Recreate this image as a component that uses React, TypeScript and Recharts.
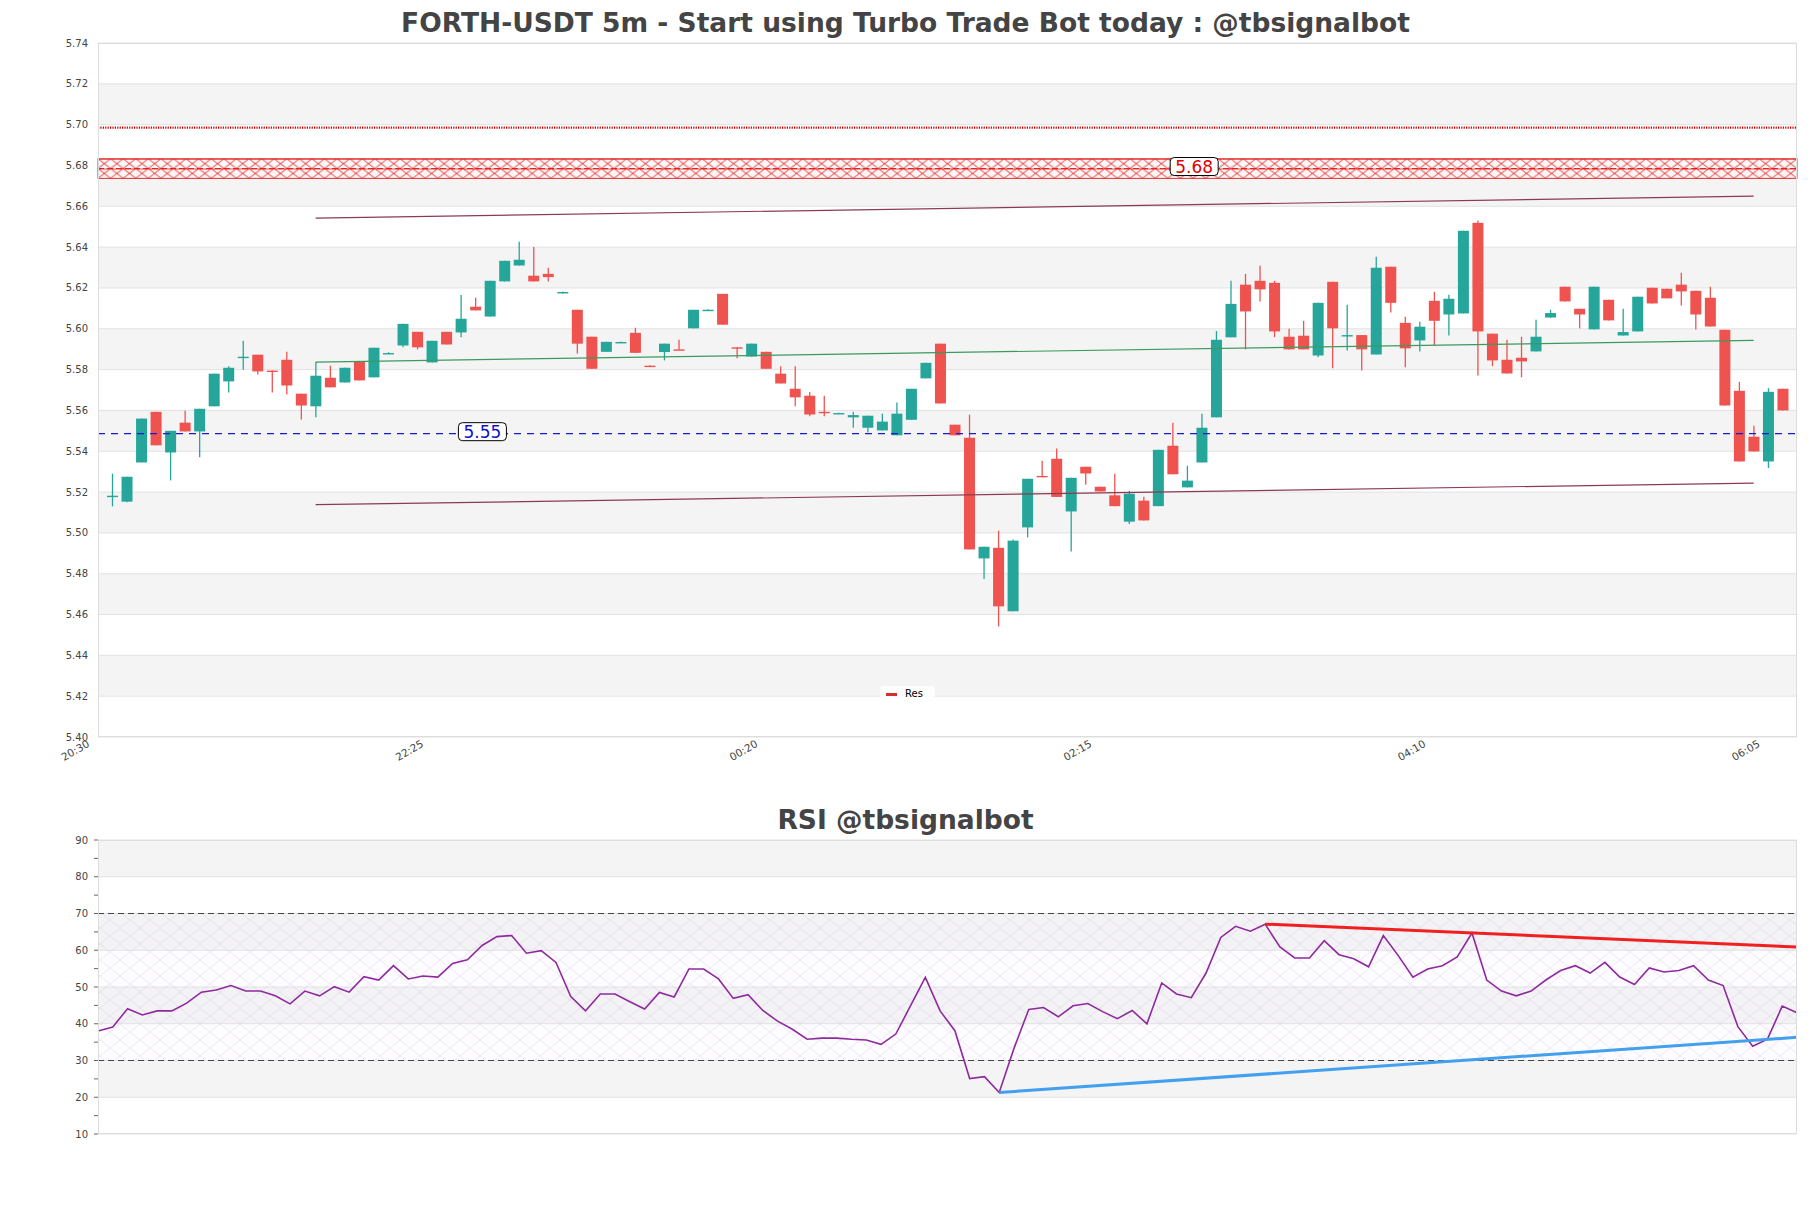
import React from 'react';
import {
  ComposedChart, Bar, Line, XAxis, YAxis, CartesianGrid,
  ReferenceLine, ReferenceArea, ReferenceDot,
} from 'recharts';

// 5m candles from 20:30 to 06:05
const FIRST_MIN = 20 * 60 + 30;
const times: string[] = Array.from({ length: 116 }, (_, i) => {
  const m = (FIRST_MIN + i * 5) % (24 * 60);
  return `${String(Math.floor(m / 60)).padStart(2, '0')}:${String(m % 60).padStart(2, '0')}`;
});

const opens = [
  5.5178, 5.5153, 5.5345, 5.5593, 5.5394, 5.554, 5.5497, 5.562, 5.5742, 5.5861,
  5.5873, 5.5795, 5.5848, 5.5682, 5.562, 5.576, 5.5737, 5.584, 5.5762, 5.588,
  5.5918, 5.5985, 5.5835, 5.5985, 5.5982, 5.6108, 5.606, 5.6232, 5.631, 5.626,
  5.6269, 5.6179, 5.6093, 5.5961, 5.5887, 5.5934, 5.598, 5.5819, 5.5886, 5.5899,
  5.6002, 5.6092, 5.6171, 5.5909, 5.5864, 5.5887, 5.578, 5.5706, 5.5672, 5.5593,
  5.5586, 5.5566, 5.5515, 5.5502, 5.5478, 5.5554, 5.5757, 5.5927, 5.553, 5.5466,
  5.4875, 5.4927, 5.4616, 5.5027, 5.5279, 5.5363, 5.5105, 5.5324, 5.5226, 5.5184,
  5.5055, 5.5158, 5.5131, 5.5427, 5.5223, 5.5345, 5.5566, 5.5958, 5.6216, 5.6235,
  5.6225, 5.5961, 5.5966, 5.5869, 5.623, 5.5968, 5.5969, 5.5874, 5.6304, 5.6029,
  5.5943, 5.6137, 5.607, 5.6075, 5.6519, 5.5976, 5.5848, 5.5858, 5.5889, 5.6055,
  5.6206, 5.6098, 5.5997, 5.6142, 5.5967, 5.5987, 5.6201, 5.6196, 5.6216, 5.6186,
  5.6152, 5.5995, 5.5696, 5.5471, 5.535, 5.5706,
];
const highs = [
  5.529, 5.5275, 5.556, 5.5593, 5.55, 5.5598, 5.5608, 5.578, 5.5816, 5.5941,
  5.5873, 5.5797, 5.5887, 5.5682, 5.5837, 5.5819, 5.5809, 5.584, 5.5907, 5.5885,
  5.6024, 5.5985, 5.5941, 5.5985, 5.6165, 5.6152, 5.6235, 5.6333, 5.6426, 5.64,
  5.6299, 5.6182, 5.6093, 5.5961, 5.5936, 5.5938, 5.6005, 5.5821, 5.5927, 5.5946,
  5.6093, 5.6095, 5.6171, 5.5911, 5.5927, 5.5887, 5.5816, 5.5816, 5.569, 5.5672,
  5.5589, 5.5593, 5.5574, 5.5584, 5.5639, 5.5706, 5.5833, 5.5927, 5.553, 5.5579,
  5.4932, 5.5011, 5.4967, 5.5265, 5.5353, 5.5414, 5.527, 5.5324, 5.5226, 5.529,
  5.5207, 5.5177, 5.5407, 5.554, 5.5329, 5.5584, 5.5989, 5.6235, 5.6269, 5.6309,
  5.6235, 5.6, 5.6039, 5.6127, 5.623, 5.6118, 5.5969, 5.6353, 5.6304, 5.6059,
  5.6034, 5.6181, 5.6167, 5.648, 5.6531, 5.5976, 5.5946, 5.5961, 5.6044, 5.6093,
  5.6206, 5.6098, 5.6206, 5.6142, 5.6098, 5.6157, 5.6201, 5.6196, 5.6274, 5.6186,
  5.6206, 5.5995, 5.574, 5.5525, 5.5709, 5.5706,
];
const lows = [
  5.513, 5.515, 5.5345, 5.5429, 5.5257, 5.5497, 5.537, 5.562, 5.5688, 5.5799,
  5.5776, 5.5688, 5.5678, 5.5556, 5.5566, 5.5713, 5.5737, 5.5747, 5.5762, 5.5876,
  5.5909, 5.5899, 5.5835, 5.5923, 5.5958, 5.609, 5.606, 5.6232, 5.631, 5.6232,
  5.6232, 5.6172, 5.5879, 5.5804, 5.5887, 5.5932, 5.5882, 5.5816, 5.5845, 5.5897,
  5.6002, 5.6091, 5.602, 5.5855, 5.5864, 5.5804, 5.5732, 5.562, 5.5571, 5.5571,
  5.5585, 5.5515, 5.5492, 5.5502, 5.5478, 5.5554, 5.5757, 5.5634, 5.5478, 5.4919,
  5.4774, 5.4542, 5.4616, 5.4978, 5.5277, 5.5176, 5.4909, 5.5236, 5.5203, 5.5131,
  5.5043, 5.5061, 5.5131, 5.5287, 5.5223, 5.5345, 5.5566, 5.5958, 5.5899, 5.6134,
  5.5959, 5.5899, 5.5899, 5.586, 5.5806, 5.5894, 5.5796, 5.5874, 5.608, 5.5811,
  5.5889, 5.5918, 5.5967, 5.6075, 5.5771, 5.5817, 5.5781, 5.5762, 5.5889, 5.6055,
  5.6134, 5.6002, 5.5997, 5.6041, 5.5967, 5.5987, 5.6124, 5.6149, 5.6114, 5.5997,
  5.6011, 5.5624, 5.535, 5.5399, 5.5318, 5.56,
];
const closes = [
  5.5182, 5.5275, 5.556, 5.5429, 5.55, 5.5497, 5.5608, 5.578, 5.5809, 5.5863,
  5.5791, 5.5793, 5.5722, 5.5624, 5.577, 5.5713, 5.5809, 5.5747, 5.5907, 5.5881,
  5.6024, 5.5909, 5.5941, 5.5923, 5.6049, 5.609, 5.6235, 5.6333, 5.6338, 5.6232,
  5.6253, 5.618, 5.5927, 5.5804, 5.5936, 5.5935, 5.5882, 5.5818, 5.5927, 5.5898,
  5.6093, 5.6093, 5.602, 5.5908, 5.5927, 5.5804, 5.5732, 5.5664, 5.558, 5.559,
  5.5587, 5.5577, 5.5574, 5.5545, 5.5584, 5.5706, 5.5833, 5.5634, 5.5478, 5.4919,
  5.4932, 5.464, 5.4962, 5.5265, 5.5278, 5.5176, 5.527, 5.5291, 5.5203, 5.5131,
  5.5192, 5.5061, 5.5407, 5.5287, 5.5256, 5.5515, 5.5946, 5.6122, 5.6085, 5.6193,
  5.5987, 5.5899, 5.5899, 5.6127, 5.6002, 5.5969, 5.5899, 5.6299, 5.6127, 5.5904,
  5.601, 5.6039, 5.6147, 5.648, 5.5987, 5.5845, 5.5781, 5.584, 5.5961, 5.6077,
  5.6134, 5.607, 5.6206, 5.6041, 5.5984, 5.6157, 5.6124, 5.6149, 5.6183, 5.607,
  5.6011, 5.5624, 5.535, 5.5399, 5.5691, 5.56,
];

const rsi = [
  38.0, 39.1, 44.1, 42.4, 43.5, 43.5, 45.6, 48.6, 49.2, 50.4,
  48.9, 48.9, 47.6, 45.4, 48.9, 47.6, 50.1, 48.6, 52.8, 51.9,
  55.8, 52.2, 53.0, 52.7, 56.4, 57.4, 61.3, 63.7, 64.0, 59.2,
  59.9, 56.7, 47.4, 43.5, 48.1, 48.1, 46.0, 44.0, 48.5, 47.3,
  54.9, 54.9, 52.2, 46.9, 47.9, 43.6, 40.7, 38.5, 35.8, 36.1,
  36.1, 35.8, 35.6, 34.4, 37.2, 44.9, 52.6, 43.5, 38.1, 25.1,
  25.6, 21.3, 33.3, 43.9, 44.4, 41.9, 44.9, 45.5, 43.3, 41.4,
  43.6, 40.0, 51.1, 48.1, 47.1, 53.8, 63.5, 66.5, 65.2, 67.1,
  60.9, 57.9, 57.9, 62.6, 58.8, 57.7, 55.5, 64.0, 58.6, 52.7,
  54.9, 55.8, 58.2, 64.7, 51.9, 48.9, 47.6, 48.9, 51.9, 54.5,
  55.8, 53.8, 56.7, 52.7, 50.7, 55.2, 54.1, 54.5, 55.8, 51.9,
  50.4, 39.2, 33.9, 35.8, 44.8, 43.0,
];

// levels and trend lines (candle index, value)
const resLevel = 5.6985;
const resZone = [5.6737, 5.6833];
const resZoneMid = 5.6785;
const supLevel = 5.5486;
const trendIdx = [14, 113];
const upperTrend = [5.6542, 5.665];
const midTrend = [5.5837, 5.5943];
const lowerTrend = [5.5138, 5.5244];
const rsiDownIdx = [79, 115];
const rsiDownVal = [67.1, 60.9];
const rsiUpIdx = [61, 115];
const rsiUpVal = [21.3, 36.3];

const priceTicks = [5.40, 5.42, 5.44, 5.46, 5.48, 5.50, 5.52, 5.54, 5.56, 5.58,
  5.60, 5.62, 5.64, 5.66, 5.68, 5.70, 5.72, 5.74];
const rsiTicks = [10, 15, 20, 25, 30, 35, 40, 45, 50, 55, 60, 65, 70, 75, 80, 85, 90];
const rsiGrid = [10, 20, 30, 40, 50, 60, 70, 80, 90];

const pick = (idx: number[], vals: number[], i: number) => {
  const k = idx.indexOf(i);
  return k >= 0 ? vals[k] : null;
};

const priceData = times.map((t, i) => ({
  t,
  range: [lows[i], highs[i]],
  o: opens[i], h: highs[i], l: lows[i], c: closes[i],
  upper: pick(trendIdx, upperTrend, i),
  mid: pick(trendIdx, midTrend, i),
  lower: pick(trendIdx, lowerTrend, i),
}));

const rsiData = rsi.map((v, i) => ({
  i,
  rsi: v,
  down: pick(rsiDownIdx, rsiDownVal, i),
  up: pick(rsiUpIdx, rsiUpVal, i),
}));

const FONT = "'DejaVu Sans', Verdana, sans-serif";
const UP = '#26a69a';
const DOWN = '#ef5350';

const Candle = (props: any) => {
  const { x, y, width, height, payload } = props;
  const { o, h, l, c } = payload;
  const top = height >= 0 ? y : y + height;
  const span = Math.abs(height);
  const k = span / (h - l);
  const yO = top + (h - o) * k;
  const yC = top + (h - c) * k;
  const color = c >= o ? UP : DOWN;
  const cx = x + width / 2;
  const bodyTop = Math.min(yO, yC);
  const bodyH = Math.max(Math.abs(yO - yC), 1.4);
  return (
    <g>
      <line x1={cx} x2={cx} y1={top} y2={top + span} stroke={color} strokeWidth={1.3} />
      <rect x={x} y={bodyTop} width={width} height={bodyH} fill={color} />
    </g>
  );
};

const XTick = ({ x, y, payload }: any) => (
  <text
    transform={`translate(${x - 22},${y + 9}) rotate(-30)`}
    textAnchor="end" fontSize={10.5} fill="#444" fontFamily={FONT}
  >
    {payload.value}
  </text>
);

const RsiTick = ({ x, y, payload }: any) => {
  const v = payload.value;
  return (
    <g>
      <line x1={x + 6} x2={x + 10} y1={y} y2={y} stroke="#666" strokeWidth={1} />
      {v % 10 === 0 && (
        <text x={x} y={y} dy="0.35em" textAnchor="end" fontSize={10} fill="#444" fontFamily={FONT}>
          {v}
        </text>
      )}
    </g>
  );
};

const tag = (text: string, color: string) => (p: any) => (
  <g>
    <rect x={p.cx + 7 - 24} y={p.cy - 11} width={48} height={18} rx={4} fill="#fff" stroke="#000" strokeWidth={1} />
    <text x={p.cx + 7} y={p.cy - 2} dy="0.36em" textAnchor="middle" fontSize={17} fill={color} fontFamily={FONT}>
      {text}
    </text>
  </g>
);

// zone spans the whole plot width, including the category padding
const ZoneShape = (p: any) => (
  <rect x={p.x - 7} y={p.y} width={p.width + 14} height={p.height}
    fill="url(#resHatch)" stroke="#e02020" strokeWidth={0.9} />
);

const titleStyle: React.CSSProperties = {
  position: 'absolute', left: 0, width: 1811, textAlign: 'center',
  fontFamily: FONT, fontWeight: 700, fontSize: 26.5, lineHeight: '28px', color: '#444',
};

export default function App() {
  return (
    <div style={{ position: 'absolute', left: 0, top: 0, width: 1811, height: 1208, background: '#fff', overflow: 'hidden' }}>
      <div style={{ ...titleStyle, top: 9 }}>FORTH-USDT 5m - Start using Turbo Trade Bot today : @tbsignalbot</div>
      <div style={{ ...titleStyle, top: 806 }}>RSI @tbsignalbot</div>

      <div style={{ position: 'absolute', left: 0, top: 0 }}>
        <ComposedChart width={1811} height={800} data={priceData} margin={{ top: 43, right: 14, bottom: 23, left: 0 }}>
          <defs>
            <pattern id="resHatch" patternUnits="objectBoundingBox" width={1 / 135} height={0.5}>
              <rect width={12.6} height={9.8} fill="rgba(255,245,245,0.75)" />
              <path d="M0,0 L12.6,9.8 M12.6,0 L0,9.8 M0,0.4 L12.6,0.4" stroke="#e02020" strokeWidth={0.9} fill="none" />
            </pattern>
          </defs>
          <CartesianGrid vertical={false} stroke="#e2e2e2" horizontalFill={['#ffffff', '#f4f4f4']} />
          <XAxis
            dataKey="t" type="category" interval={22} padding={{ left: 7, right: 7 }}
            tick={<XTick />} tickLine={false} axisLine={false} tickSize={0} tickMargin={0} height={40}
          />
          <YAxis
            domain={[5.40, 5.74]} ticks={priceTicks} interval={0} allowDataOverflow
            tickFormatter={(v: number) => v.toFixed(2)} width={98}
            tick={{ fontSize: 10, fill: '#444', fontFamily: FONT }}
            tickLine={false} axisLine={false} tickSize={8} tickMargin={2}
          />
          <ReferenceArea y1={resZone[0]} y2={resZone[1]} shape={ZoneShape} ifOverflow="visible" />
          <ReferenceLine y={resZoneMid} stroke="#e02020" strokeWidth={1} strokeDasharray="6 3" />
          <ReferenceLine y={resLevel} stroke="#d50000" strokeWidth={2.2} strokeDasharray="1.2 1.2" />
          <ReferenceLine y={supLevel} stroke="#1a1acc" strokeWidth={1.3} strokeDasharray="7 6" />
          <Line dataKey="upper" connectNulls dot={false} stroke="#8b3a50" strokeWidth={1.2} isAnimationActive={false} />
          <Line dataKey="lower" connectNulls dot={false} stroke="#8b3a50" strokeWidth={1.2} isAnimationActive={false} />
          <Line dataKey="mid" connectNulls dot={false} stroke="#3a9b5c" strokeWidth={1.2} isAnimationActive={false} />
          <Bar dataKey="range" barSize={11} shape={(p: any) => <Candle {...p} />} isAnimationActive={false} />
          <ReferenceDot x={times[25]} y={supLevel} r={0} shape={tag('5.55', '#1010cc')} />
          <ReferenceDot x={times[74]} y={resZoneMid} r={0} shape={tag('5.68', '#e00000')} />
        </ComposedChart>
      </div>

      <div style={{ position: 'absolute', left: 0, top: 800 }}>
        <ComposedChart width={1811} height={360} data={rsiData} margin={{ top: 40, right: 14, bottom: 26, left: 0 }}>
          <defs>
            <pattern id="rsiHatch" patternUnits="userSpaceOnUse" width={20} height={16}>
              <rect width={20} height={16} fill="rgba(235,215,240,0.08)" />
              <path d="M0,0 L20,16 M20,0 L0,16" stroke="rgba(200,160,220,0.4)" strokeWidth={0.6} fill="none" />
            </pattern>
          </defs>
          <CartesianGrid vertical={false} stroke="#e2e2e2" horizontalValues={rsiGrid} horizontalFill={['#f4f4f4', '#ffffff']} />
          <XAxis dataKey="i" type="number" domain={[0, 115]} hide />
          <YAxis
            domain={[10, 90]} ticks={rsiTicks} interval={0} width={98}
            tick={<RsiTick />} tickLine={false} axisLine={false} tickSize={4} tickMargin={6}
          />
          <ReferenceArea y1={30} y2={70} fill="url(#rsiHatch)" fillOpacity={1} />
          <ReferenceLine y={70} stroke="#444" strokeWidth={1} strokeDasharray="6 4" />
          <ReferenceLine y={30} stroke="#444" strokeWidth={1} strokeDasharray="6 4" />
          <Line dataKey="rsi" dot={false} stroke="#8e2a9e" strokeWidth={1.6} isAnimationActive={false} />
          <Line dataKey="down" connectNulls dot={false} stroke="#f02020" strokeWidth={3} isAnimationActive={false} />
          <Line dataKey="up" connectNulls dot={false} stroke="#42a0ee" strokeWidth={3} isAnimationActive={false} />
        </ComposedChart>
      </div>

      {/* plot frames */}
      <div style={{ position: 'absolute', left: 98, top: 43, width: 1699, height: 694, border: '1px solid #ddd', boxSizing: 'border-box', pointerEvents: 'none' }} />
      <div style={{ position: 'absolute', left: 98, top: 840, width: 1699, height: 294, border: '1px solid #ddd', boxSizing: 'border-box', pointerEvents: 'none' }} />

      {/* legend */}
      <div style={{ position: 'absolute', left: 880, top: 686, width: 55, height: 16, background: 'rgba(255,255,255,0.85)', borderRadius: 3, fontFamily: FONT, fontSize: 10, color: '#000' }}>
        <div style={{ position: 'absolute', left: 6, top: 7, width: 11, height: 2.5, background: '#d32f2f' }} />
        <div style={{ position: 'absolute', left: 25, top: 1, lineHeight: '14px' }}>Res</div>
      </div>
    </div>
  );
}
